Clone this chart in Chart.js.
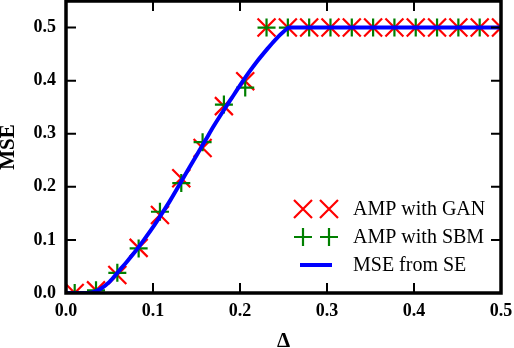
<!DOCTYPE html>
<html lang="en">
<head>
<meta charset="UTF-8" />
<title>MSE vs Delta</title>
<script src="https://cdn.jsdelivr.net/npm/chart.js"></script>
<style>
  html, body { margin: 0; padding: 0; background: #fff; }
</style>
</head>
<body>
<canvas id="myChart" width="514" height="348"></canvas>
<script>
// sample points of the two AMP runs
var deltas = [0.01, 0.0345, 0.059, 0.0835, 0.108, 0.1325, 0.157, 0.1815, 0.206, 0.2305, 0.255,
  0.2795, 0.304, 0.3285, 0.353, 0.3775, 0.402, 0.4265, 0.451, 0.4755, 0.5];
var mseGan = [0.0, 0.005, 0.034, 0.085, 0.147, 0.216, 0.273, 0.352, 0.399, 0.5, 0.5,
  0.5, 0.5, 0.5, 0.5, 0.5, 0.5, 0.5, 0.5, 0.5, 0.5];
var mseSbm = [0.0, 0.005, 0.038, 0.084, 0.153, 0.207, 0.284, 0.355, 0.387, 0.5, 0.5,
  0.5, 0.5, 0.5, 0.5, 0.5, 0.5, 0.5, 0.5, 0.5, 0.5];

// state evolution curve
var seDelta = [0, 0.02, 0.03, 0.04, 0.05, 0.06, 0.07, 0.08, 0.09, 0.10, 0.11, 0.12, 0.13,
  0.14, 0.15, 0.16, 0.17, 0.18, 0.19, 0.20, 0.21, 0.22, 0.23, 0.24, 0.25, 0.257, 0.5];
var seMse = [0, 0, 0.001, 0.008, 0.021, 0.040, 0.059, 0.079, 0.101, 0.124, 0.149, 0.175, 0.203,
  0.231, 0.259, 0.287, 0.315, 0.341, 0.366, 0.391, 0.415, 0.437, 0.457, 0.476, 0.492, 0.5, 0.5];

var xTicks = [0, 0.1, 0.2, 0.3, 0.4, 0.5];
var yTicks = [0, 0.1, 0.2, 0.3, 0.4, 0.5];

var serif = "'Liberation Serif', 'Times New Roman', serif";

function pts(xs, ys) {
  return xs.map(function (x, i) { return { x: x, y: ys[i] }; });
}

// box, inner ticks on all four sides, and the legend
var framePlugin = {
  id: "frame",
  afterDatasetsDraw: function (chart) {
    var a = chart.chartArea, ctx = chart.ctx;
    var xs = chart.scales.x, ys = chart.scales.y;
    ctx.save();
    ctx.strokeStyle = "#000";
    ctx.lineWidth = 2;
    ctx.beginPath();
    xTicks.forEach(function (v) {
      var p = xs.getPixelForValue(v);
      ctx.moveTo(p, a.bottom); ctx.lineTo(p, a.bottom - 10);
      ctx.moveTo(p, a.top); ctx.lineTo(p, a.top + 10);
    });
    yTicks.forEach(function (v) {
      var p = ys.getPixelForValue(v);
      ctx.moveTo(a.left, p); ctx.lineTo(a.left + 10, p);
      ctx.moveTo(a.right, p); ctx.lineTo(a.right - 10, p);
    });
    ctx.stroke();
    ctx.lineWidth = 3.5;
    ctx.strokeRect(a.left, a.top, a.right - a.left, a.bottom - a.top);

    // legend
    var ds = chart.data.datasets;
    var m1 = a.right - 198, m2 = a.right - 172, tx = a.right - 148;
    var rows = [a.bottom - 84, a.bottom - 56, a.bottom - 28];
    ctx.font = "20px " + serif;
    ctx.textBaseline = "middle";
    ctx.textAlign = "left";
    ctx.fillStyle = "#000";
    // red x
    ctx.strokeStyle = ds[0].borderColor;
    ctx.lineWidth = 2.2;
    ctx.beginPath();
    [m1, m2].forEach(function (x) {
      var r = 9, y = rows[0];
      ctx.moveTo(x - r, y - r); ctx.lineTo(x + r, y + r);
      ctx.moveTo(x - r, y + r); ctx.lineTo(x + r, y - r);
    });
    ctx.stroke();
    // green +
    ctx.strokeStyle = ds[1].borderColor;
    ctx.lineWidth = 2.2;
    ctx.beginPath();
    [m1, m2].forEach(function (x) {
      var r = 9, y = rows[1];
      ctx.moveTo(x - r, y); ctx.lineTo(x + r, y);
      ctx.moveTo(x, y - r); ctx.lineTo(x, y + r);
    });
    ctx.stroke();
    // blue line
    ctx.strokeStyle = ds[2].borderColor;
    ctx.lineWidth = 4;
    ctx.beginPath();
    ctx.moveTo(m1 - 3, rows[2]); ctx.lineTo(m2 + 3, rows[2]);
    ctx.stroke();
    for (var i = 0; i < 3; i++) ctx.fillText(ds[i].label, tx, rows[i] + 1);
    ctx.restore();
  }
};

function noPad(s) {
  s.paddingTop = 0; s.paddingBottom = 0; s.paddingLeft = 0; s.paddingRight = 0;
}

var ctx = document.getElementById("myChart").getContext("2d");
new Chart(ctx, {
  type: "scatter",
  data: {
    datasets: [
      {
        label: "AMP with GAN",
        data: pts(deltas, mseGan),
        showLine: false,
        pointStyle: "crossRot",
        pointRadius: 12.7,
        pointBorderWidth: 2.2,
        borderColor: "#ff0000",
        backgroundColor: "#ff0000",
        clip: 0,
        order: 3
      },
      {
        label: "AMP with SBM",
        data: pts(deltas, mseSbm),
        showLine: false,
        pointStyle: "cross",
        pointRadius: 9,
        pointBorderWidth: 2.2,
        borderColor: "#008000",
        backgroundColor: "#008000",
        clip: 0,
        order: 2
      },
      {
        label: "MSE from SE",
        data: pts(seDelta, seMse),
        showLine: true,
        pointRadius: 0,
        borderWidth: 4,
        borderColor: "#0000ff",
        backgroundColor: "#0000ff",
        cubicInterpolationMode: "monotone",
        clip: 0,
        order: 1
      }
    ]
  },
  options: {
    responsive: false,
    animation: false,
    layout: { autoPadding: false, padding: { left: 0, right: 13, top: 1, bottom: 0 } },
    plugins: { legend: { display: false }, tooltip: { enabled: false } },
    scales: {
      x: {
        type: "linear",
        min: 0,
        max: 0.5,
        afterBuildTicks: function (s) { s.ticks = xTicks.map(function (v) { return { value: v }; }); },
        afterFit: function (s) { s.height = 55; noPad(s); },
        grid: { display: false, drawTicks: false },
        border: { display: false },
        ticks: {
          padding: 8,
          color: "#000",
          font: { family: serif, size: 18, weight: "bold" },
          callback: function (v) { return v.toFixed(1); }
        },
        title: {
          display: true,
          text: "Δ",
          color: "#000",
          font: { family: serif, size: 21, weight: "bold" },
          padding: { top: 0, bottom: -6 }
        }
      },
      y: {
        type: "linear",
        min: 0,
        max: 0.55,
        afterBuildTicks: function (s) { s.ticks = yTicks.map(function (v) { return { value: v }; }); },
        afterFit: function (s) { s.width = 66; noPad(s); },
        grid: { display: false, drawTicks: false },
        border: { display: false },
        ticks: {
          padding: 10,
          color: "#000",
          font: { family: serif, size: 18, weight: "bold" },
          callback: function (v) { return v.toFixed(1); }
        },
        title: {
          display: true,
          text: "MSE",
          color: "#000",
          font: { family: serif, size: 21, weight: "bold" },
          padding: { top: -4, bottom: 0 }
        }
      }
    }
  },
  plugins: [framePlugin]
});
</script>
</body>
</html>
